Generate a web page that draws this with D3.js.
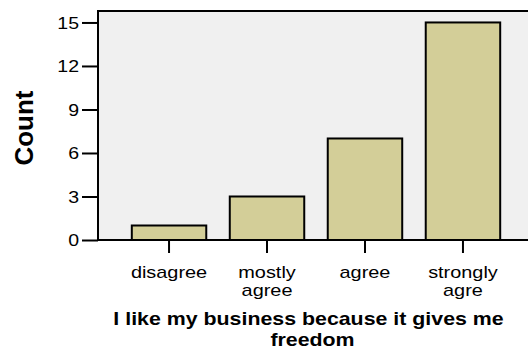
<!DOCTYPE html>
<html>
<head>
<meta charset="utf-8">
<script src="https://cdn.jsdelivr.net/npm/d3@7"></script>
<style>
  body { margin: 0; background: #fff; }
  svg { display: block; font-family: Arial, "Liberation Sans", sans-serif; }
</style>
</head>
<body>
<svg id="chart" width="528" height="350"></svg>
<script>
// Response categories (two-line labels) and their counts
const categories = ["disagree", "mostly agree", "agree", "strongly agre"];
const categoryLines = [["disagree"], ["mostly", "agree"], ["agree"], ["strongly", "agre"]];
const counts = [1, 3, 7, 15];
const yTicks = [0, 3, 6, 9, 12, 15];
const xTitleLines = ["I like my business because it gives me", "freedom"];
const yTitle = "Count";

const svg = d3.select("#chart");
const plotLeft = 98, plotRight = 534, plotTop = 11, plotBottom = 240;
const wide = 1.17; // horizontal stretch of the label lettering

const x = d3.scaleBand().domain(categories).range([plotLeft, plotRight])
  .paddingInner(0.24).paddingOuter(0.345);
const y = d3.scaleLinear().domain([0, 15.79]).range([plotBottom, plotTop]);

// plot background
svg.append("rect").attr("x", plotLeft).attr("y", plotTop)
  .attr("width", plotRight - plotLeft).attr("height", plotBottom - plotTop)
  .attr("fill", "#f0f0f0").attr("stroke", "#000").attr("stroke-width", 2);

// bars
svg.append("g").selectAll("rect").data(counts).join("rect")
  .attr("x", (d, i) => x(categories[i]))
  .attr("y", d => y(d))
  .attr("width", x.bandwidth())
  .attr("height", d => y(0) - y(d))
  .attr("fill", "#d3ce98")
  .attr("stroke", "#000").attr("stroke-width", 2);

// y axis
const yAxis = svg.append("g").attr("transform", `translate(${plotLeft},0)`)
  .call(d3.axisLeft(y).tickValues(yTicks).tickSize(16));
yAxis.select(".domain").remove();
yAxis.selectAll("line").attr("stroke", "#000").attr("stroke-width", 2);
yAxis.selectAll("text")
  .attr("x", 0).attr("dy", "0.36em")
  .attr("transform", `translate(-19,0) scale(1.22,1)`)
  .attr("font-size", 16).attr("fill", "#000")
  .attr("font-family", "Arial, 'Liberation Sans', sans-serif");

// x axis
const xAxis = svg.append("g").attr("transform", `translate(0,${plotBottom})`)
  .call(d3.axisBottom(x).tickSize(13).tickFormat(""));
xAxis.select(".domain").remove();
xAxis.selectAll("line").attr("stroke", "#000").attr("stroke-width", 2);

// category labels
svg.append("g").selectAll("text").data(categoryLines).join("text")
  .attr("transform", (d, i) => `translate(${x(categories[i]) + x.bandwidth() / 2},277.5) scale(${wide},1)`)
  .attr("text-anchor", "middle").attr("font-size", 17).attr("fill", "#000")
  .selectAll("tspan").data(d => d).join("tspan")
  .attr("x", 0)
  .attr("dy", (d, i) => i === 0 ? 0 : 19)
  .text(d => d);

// axis titles
const titleCenters = [308.5, 312.5];
const titleBaselines = [325, 346];
svg.append("g").selectAll("text").data(xTitleLines).join("text")
  .attr("transform", (d, i) => `translate(${titleCenters[i]},${titleBaselines[i]}) scale(1.22,1)`)
  .attr("text-anchor", "middle").attr("font-size", 17.5).attr("font-weight", "bold")
  .attr("fill", "#000")
  .text(d => d);
svg.append("text").attr("transform", "translate(33,128) rotate(-90)")
  .attr("text-anchor", "middle").attr("font-size", 26).attr("font-weight", "bold")
  .attr("fill", "#000")
  .text(yTitle);
</script>
</body>
</html>
